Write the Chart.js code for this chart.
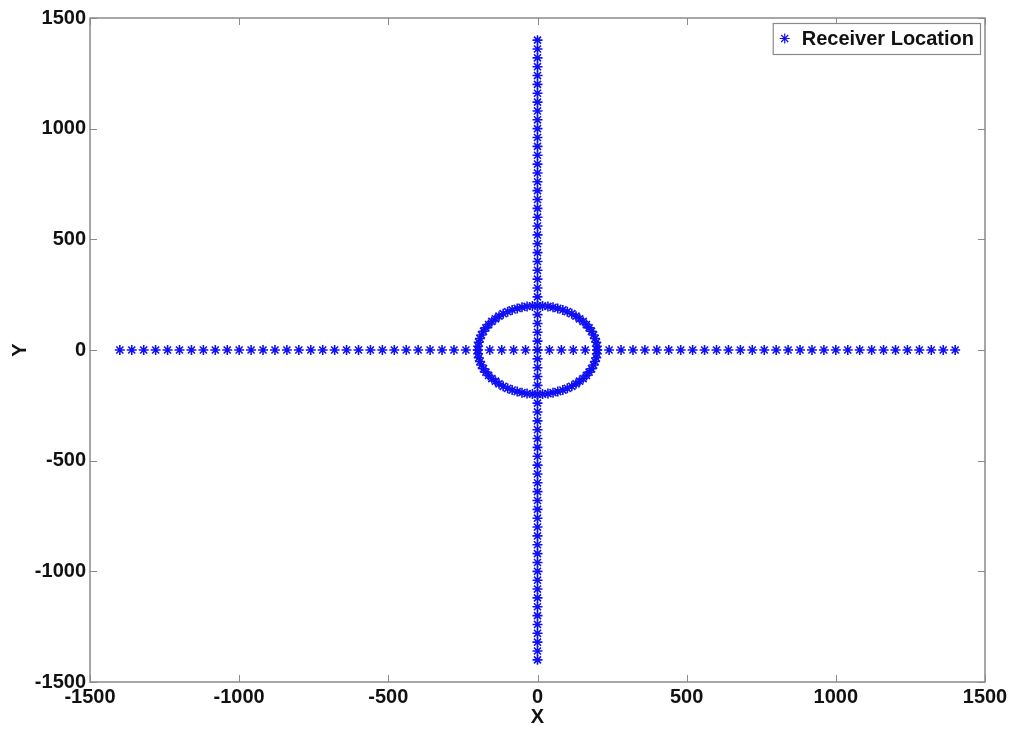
<!DOCTYPE html>
<html>
<head>
<meta charset="utf-8">
<script src="https://cdn.jsdelivr.net/npm/chart.js@4.4.1/dist/chart.umd.min.js"></script>
<style>
  html, body { margin: 0; padding: 0; background: #fff; }
  #wrap { width: 1013px; height: 729px; }
</style>
</head>
<body>
<div id="wrap"><canvas id="chart"></canvas></div>
<script>
// receiver positions along the two straight lines (same spacing on both)
const linePos = [-1400, -1360, -1320, -1280, -1240, -1200, -1160, -1120, -1080, -1040,
    -1000, -960, -920, -880, -840, -800, -760, -720, -680, -640,
    -600, -560, -520, -480, -440, -400, -360, -320, -280, -240,
    -200, -160, -120, -80, -40, 0, 40, 80, 120, 160,
    200, 240, 280, 320, 360, 400, 440, 480, 520, 560,
    600, 640, 680, 720, 760, 800, 840, 880, 920, 960,
    1000, 1040, 1080, 1120, 1160, 1200, 1240, 1280, 1320, 1360, 1400];

// receivers on the ring around the origin (radius ~200)
const ringX = [200, 199, 197, 193, 188, 181, 173, 164, 153, 141, 129, 115, 100, 85, 68, 52, 35, 17, 0,
    -17, -35, -52, -68, -85, -100, -115, -129, -141, -153, -164, -173, -181, -188, -193, -197, -199, -200,
    -199, -197, -193, -188, -181, -173, -164, -153, -141, -129, -115, -100, -85, -68, -52, -35, -17, 0,
    17, 35, 52, 68, 85, 100, 115, 129, 141, 153, 164, 173, 181, 188, 193, 197, 199];
const ringY = [0, 17, 35, 52, 68, 85, 100, 115, 129, 141, 153, 164, 173, 181, 188, 193, 197, 199, 200,
    199, 197, 193, 188, 181, 173, 164, 153, 141, 129, 115, 100, 85, 68, 52, 35, 17, 0,
    -17, -35, -52, -68, -85, -100, -115, -129, -141, -153, -164, -173, -181, -188, -193, -197, -199, -200,
    -199, -197, -193, -188, -181, -173, -164, -153, -141, -129, -115, -100, -85, -68, -52, -35, -17];

const xTicks = [-1500, -1000, -500, 0, 500, 1000, 1500];
const yTicks = [-1500, -1000, -500, 0, 500, 1000, 1500];
const seriesName = 'Receiver Location';

const points = [];
linePos.forEach(v => points.push({ x: v, y: 0 }));
linePos.forEach(v => points.push({ x: 0, y: v }));
ringX.forEach((v, i) => points.push({ x: v, y: ringY[i] }));

const markerColor = '#1010f5';
const frameColor = '#8a8a8a';
const tickFont = { family: 'Liberation Sans, Arial, sans-serif', size: 20, weight: 'bold' };

// matlab style box: frame all round, ticks pointing inward, legend box top right
const frameAndLegend = {
    id: 'frameAndLegend',
    afterDraw(chart) {
        const ctx = chart.ctx;
        const a = chart.chartArea;
        const xs = chart.scales.x, ys = chart.scales.y;
        ctx.save();
        ctx.strokeStyle = frameColor;
        ctx.lineWidth = 1.5;
        ctx.strokeRect(a.left, a.top, a.right - a.left, a.bottom - a.top);
        ctx.lineWidth = 1;
        ctx.beginPath();
        xTicks.forEach(t => {
            const px = Math.round(xs.getPixelForValue(t)) + 0.5;
            ctx.moveTo(px, a.bottom); ctx.lineTo(px, a.bottom - 7);
            ctx.moveTo(px, a.top); ctx.lineTo(px, a.top + 7);
        });
        yTicks.forEach(t => {
            const py = Math.round(ys.getPixelForValue(t)) + 0.5;
            ctx.moveTo(a.left, py); ctx.lineTo(a.left + 7, py);
            ctx.moveTo(a.right, py); ctx.lineTo(a.right - 7, py);
        });
        ctx.stroke();

        // legend
        ctx.font = 'bold 20px Liberation Sans, Arial, sans-serif';
        const tw = ctx.measureText(seriesName).width;
        const boxRight = a.right - 5;
        const boxTop = a.top + 5;
        const boxH = 31;
        const textX = boxRight - 6 - tw;
        const starX = textX - 17;
        const boxLeft = starX - 12;
        ctx.fillStyle = '#fff';
        ctx.fillRect(boxLeft, boxTop, boxRight - boxLeft, boxH);
        ctx.strokeStyle = frameColor;
        ctx.lineWidth = 1.2;
        ctx.strokeRect(boxLeft + 0.5, boxTop + 0.5, boxRight - boxLeft, boxH);
        ctx.strokeStyle = markerColor;
        ctx.fillStyle = markerColor;
        Chart.helpers.drawPoint(ctx, {
            pointStyle: 'star', radius: 5, borderWidth: 1.6, rotation: 0
        }, starX, boxTop + boxH / 2);
        ctx.fillStyle = '#111';
        ctx.textBaseline = 'middle';
        ctx.textAlign = 'left';
        ctx.fillText(seriesName, textX, boxTop + boxH / 2 + 1);
        ctx.restore();
    }
};

const plainLabel = v => String(v);

new Chart(document.getElementById('chart'), {
    type: 'scatter',
    data: {
        datasets: [{
            label: seriesName,
            data: points,
            pointStyle: 'star',
            pointRadius: 5,
            borderColor: markerColor,
            backgroundColor: markerColor,
            borderWidth: 1.6
        }]
    },
    options: {
        responsive: true,
        maintainAspectRatio: false,
        animation: false,
        layout: { padding: { left: 0, top: 18, right: 28, bottom: 0 } },
        plugins: {
            legend: { display: false },
            tooltip: { enabled: false }
        },
        scales: {
            x: {
                type: 'linear',
                min: -1500,
                max: 1500,
                afterBuildTicks: s => { s.ticks = xTicks.map(v => ({ value: v })); },
                afterFit: s => { s.height = 47; },
                grid: { display: false, drawTicks: false },
                border: { display: false },
                ticks: { color: '#111', font: tickFont, padding: 3, maxRotation: 0, callback: plainLabel },
                title: { display: true, text: 'X', color: '#111', font: tickFont, padding: { top: 0, bottom: 0 } }
            },
            y: {
                type: 'linear',
                min: -1500,
                max: 1500,
                afterBuildTicks: s => { s.ticks = yTicks.map(v => ({ value: v })); },
                afterFit: s => { s.width = 90; },
                grid: { display: false, drawTicks: false },
                border: { display: false },
                ticks: { color: '#111', font: tickFont, padding: 4, callback: plainLabel },
                title: { display: true, text: 'Y', color: '#111', font: tickFont, padding: { top: 8, bottom: 0 } }
            }
        }
    },
    plugins: [frameAndLegend]
});
</script>
</body>
</html>
